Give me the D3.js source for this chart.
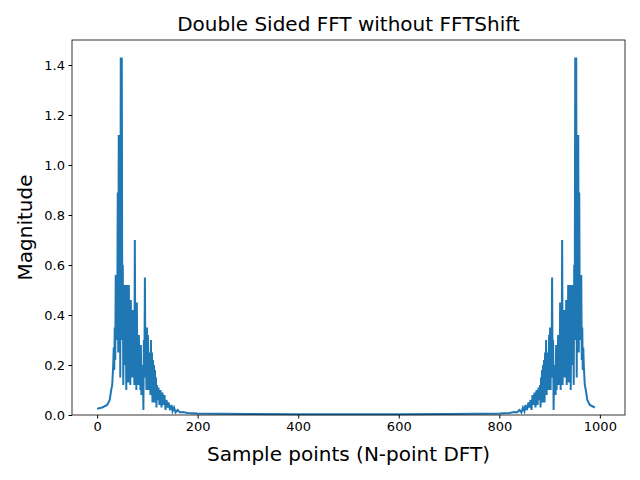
<!DOCTYPE html>
<html><head><meta charset="utf-8">
<script src="https://cdn.jsdelivr.net/npm/d3@7"></script>
<style>body{margin:0;background:#fff}</style></head>
<body><svg id="c" width="640" height="480"></svg>
<script>
const leftX=[0,10,20,25,28,30,32,33,34,35,36,37,38,39,40,41,42,43,44,45,46,47,48,49,50,51,52,53,54,55,56,57,58,59,60,61,62,63,64,65,66,67,68,69,70,71,72,73,74,75,76,77,78,79,80,81,82,83,84,85,86,87,88,89,90,91,92,93,94,95,96,97,98,99,100,101,102,103,104,105,106,107,108,109,110,111,112,113,114,115,116,117,118,119,120,122,124,126,128,130,132,134,136,138,140,142,145,148,150,153,156,160,165,170,180,200,300,400,500];
const leftY=[0.025,0.03,0.04,0.06,0.1,0.12,0.2,0.27,0.18,0.35,0.22,0.56,0.3,0.45,0.35,0.89,0.25,1.12,0.35,1.0,0.15,1.43,0.3,1.43,0.4,0.6,0.12,0.45,0.3,0.52,0.2,0.35,0.1,0.52,0.22,0.45,0.13,0.52,0.28,0.35,0.12,0.46,0.2,0.3,0.15,0.42,0.25,0.36,0.12,0.7,0.2,0.35,0.1,0.45,0.18,0.28,0.12,0.32,0.18,0.22,0.1,0.28,0.08,0.2,0.1,0.18,0.02,0.3,0.15,0.55,0.2,0.3,0.1,0.35,0.15,0.32,0.1,0.25,0.12,0.2,0.08,0.3,0.1,0.25,0.05,0.22,0.15,0.2,0.05,0.18,0.08,0.15,0.03,0.12,0.06,0.11,0.04,0.1,0.03,0.09,0.04,0.08,0.02,0.06,0.03,0.05,0.02,0.04,0.015,0.03,0.01,0.02,0.01,0.012,0.008,0.006,0.004,0.003,0.003];
const N=1000;
const xTicks=[0,200,400,600,800,1000];
const yTicks=[0,0.2,0.4,0.6,0.8,1.0,1.2,1.4];
// Double-sided spectrum of a real signal: right half mirrors the left
let pts=leftX.map((x,i)=>[x,leftY[i]]);
const right=leftX.slice(1).reverse().filter(x=>x<500).map(x=>[N-x,leftY[leftX.indexOf(x)]]);
pts=pts.concat(right);
const svg=d3.select("#c");
const L=72,R=625,T=40,B=415;
const x=d3.scaleLinear().domain([-50,1050]).range([L,R]);
const y=d3.scaleLinear().domain([0,1.5]).range([B,T]);
svg.append("path").datum(pts).attr("fill","none").attr("stroke","#1f77b4").attr("stroke-width",2)
 .attr("d",d3.line().x(d=>x(d[0])).y(d=>y(d[1])));
const fmt=d3.format(".1f");
svg.append("g").attr("transform",`translate(0,${B})`).call(d3.axisBottom(x).tickValues(xTicks).tickFormat(d3.format("d")).tickSize(3.5).tickPadding(3.5))
 .call(g=>{g.select(".domain").remove();g.selectAll("text").attr("font-size",13).attr("font-family","DejaVu Sans").attr("fill","#000");});
svg.append("g").attr("transform",`translate(${L},0)`).call(d3.axisLeft(y).tickValues(yTicks).tickFormat(fmt).tickSize(3.5).tickPadding(3.5))
 .call(g=>{g.select(".domain").remove();g.selectAll("text").attr("font-size",13).attr("font-family","DejaVu Sans").attr("fill","#000");});
svg.append("rect").attr("x",L).attr("y",T).attr("width",R-L).attr("height",B-T).attr("fill","none").attr("stroke","#000").attr("stroke-width",0.8);
svg.append("text").attr("x",(L+R)/2).attr("y",31).attr("text-anchor","middle").attr("font-family","DejaVu Sans").attr("font-size",20).text("Double Sided FFT without FFTShift");
svg.append("text").attr("x",(L+R)/2).attr("y",461).attr("text-anchor","middle").attr("font-family","DejaVu Sans").attr("font-size",20).text("Sample points (N-point DFT)");
svg.append("text").attr("transform",`translate(32,${(T+B)/2}) rotate(-90)`).attr("text-anchor","middle").attr("font-family","DejaVu Sans").attr("font-size",20).text("Magnitude");
</script></body></html>
